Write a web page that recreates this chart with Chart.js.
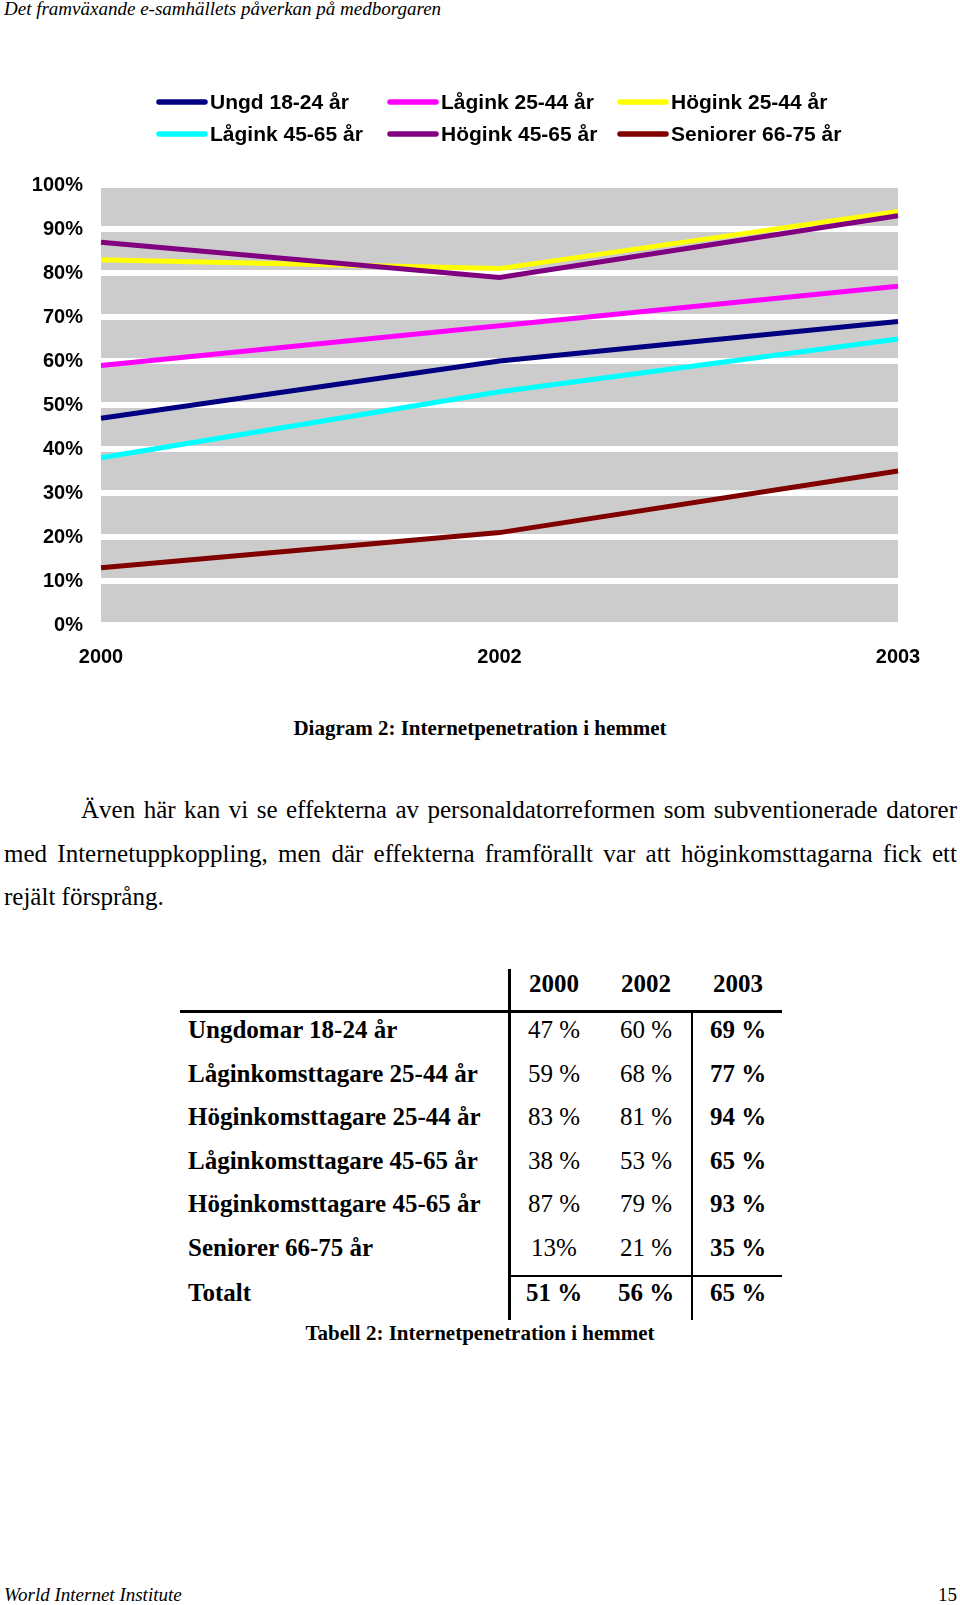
<!DOCTYPE html>
<html><head><meta charset="utf-8">
<script src="https://cdn.jsdelivr.net/npm/chart.js@4.4.1/dist/chart.umd.min.js"></script>
<style>
body{margin:0;width:960px;height:1605px;position:relative;background:#fff;overflow:hidden;}
.t{position:absolute;white-space:nowrap;color:#000;}
.serif{font-family:'Liberation Serif','Times New Roman',serif;}
.cap{font-weight:bold;font-size:21px;line-height:26px;text-align:center;width:600px;left:180px;}
.lbl{font-weight:bold;font-size:25px;line-height:30px;left:188px;}
.val{font-size:25px;line-height:30px;width:120px;text-align:center;}
.b{font-weight:bold;}
.ln{position:absolute;background:#000;}
#para{position:absolute;left:4px;top:788px;width:953px;font-size:25px;line-height:43.7px;text-align:justify;text-indent:77px;}
</style></head><body>
<div class="t serif" style="left:4px;top:-2px;font-style:italic;font-size:19px;line-height:22px">Det framväxande e-samhällets påverkan på medborgaren</div>
<canvas id="c" width="960" height="700" style="position:absolute;left:0;top:0"></canvas>
<div class="t serif cap" style="top:715px">Diagram 2: Internetpenetration i hemmet</div>
<div id="para" class="serif">Även här kan vi se effekterna av personaldatorreformen som subventionerade datorer med Internetuppkoppling, men där effekterna framförallt var att höginkomsttagarna fick ett rejält försprång.</div>
<div id="tbl"></div>
<div class="t serif cap" style="top:1320px">Tabell 2: Internetpenetration i hemmet</div>
<div class="t serif" style="left:4px;top:1584px;font-style:italic;font-size:19px;line-height:22px">World Internet Institute</div>
<div class="t serif" style="left:938px;top:1584px;font-size:19px;line-height:22px">15</div>
<script>
// ---- data ----
const categories = ['2000', '2002', '2003'];
const seriesNames = ['Ungd 18-24 år', 'Lågink 25-44 år', 'Högink 25-44 år', 'Lågink 45-65 år', 'Högink 45-65 år', 'Seniorer 66-75 år'];
const ungd = [47, 60, 69];
const lagink2544 = [59, 68, 77];
const hogink2544 = [83, 81, 94];
const lagink4565 = [38, 53, 65];
const hogink4565 = [87, 79, 93];
const seniorer = [13, 21, 35];
const yTickLabels = ['0%', '10%', '20%', '30%', '40%', '50%', '60%', '70%', '80%', '90%', '100%'];
const seriesColors = ['#000080', '#FF00FF', '#FFFF00', '#00FFFF', '#800080', '#800000'];

// table data
const tableYears = ['2000', '2002', '2003'];
const tableRows = ['Ungdomar 18-24 år', 'Låginkomsttagare 25-44 år', 'Höginkomsttagare 25-44 år', 'Låginkomsttagare 45-65 år', 'Höginkomsttagare 45-65 år', 'Seniorer 66-75 år', 'Totalt'];
const table2000 = ['47 %', '59 %', '83 %', '38 %', '87 %', '13%', '51 %'];
const table2002 = ['60 %', '68 %', '81 %', '53 %', '79 %', '21 %', '56 %'];
const table2003 = ['69 %', '77 %', '94 %', '65 %', '93 %', '35 %', '65 %'];

// ---- chart ----
Chart.defaults.font.family = "'Liberation Sans', Arial, sans-serif";
Chart.defaults.color = '#000';

const seriesValues = [ungd, lagink2544, hogink2544, lagink4565, hogink4565, seniorer];

const plotBg = {
  id: 'plotBg',
  beforeDraw(chart) {
    const { ctx, chartArea: a } = chart;
    ctx.save();
    ctx.fillStyle = '#CCCCCC';
    ctx.fillRect(a.left, a.top, a.right - a.left, a.bottom - a.top);
    ctx.restore();
  }
};
const gridLegend = {
  id: 'gridLegend',
  afterDraw(chart) {
    const ctx = chart.ctx;
    ctx.save();
    const colX = [159, 390, 620], rowY = [102, 134];
    chart.data.datasets.forEach((ds, i) => {
      const x = colX[i % 3], y = rowY[Math.floor(i / 3)];
      ctx.strokeStyle = ds.borderColor;
      ctx.lineWidth = 5.5;
      ctx.lineCap = 'round';
      ctx.beginPath(); ctx.moveTo(x, y); ctx.lineTo(x + 46, y); ctx.stroke();
      ctx.fillStyle = '#000';
      ctx.font = "bold 21px 'Liberation Sans'";
      ctx.textBaseline = 'middle';
      ctx.textAlign = 'left';
      ctx.fillText(ds.label, x + 51, y + 1);
    });
    ctx.restore();
  }
};

new Chart(document.getElementById('c'), {
  type: 'line',
  data: {
    labels: categories,
    datasets: seriesNames.map((n, i) => ({
      label: n,
      data: seriesValues[i],
      borderColor: seriesColors[i],
      backgroundColor: seriesColors[i],
      borderWidth: 5,
      pointRadius: 0,
      tension: 0,
      fill: false,
      order: 10 - i
    }))
  },
  options: {
    responsive: false,
    animation: false,
    events: [],
    layout: { padding: { top: 185, right: 62, bottom: 0, left: 0 } },
    plugins: { legend: { display: false }, tooltip: { enabled: false } },
    scales: {
      x: {
        offset: false,
        grid: { display: false, drawTicks: false },
        border: { display: false },
        ticks: { font: { size: 20, weight: 'bold' }, padding: 20, maxRotation: 0, autoSkip: false },
        afterFit(s) { s.height = 75; }
      },
      y: {
        min: 0, max: 100,
        ticks: { stepSize: 10, font: { size: 20, weight: 'bold' }, padding: 18, callback: (v, i) => yTickLabels[i] },
        grid: { color: '#FFFFFF', lineWidth: 6, drawTicks: false },
        border: { display: false },
        afterFit(s) { s.width = 101; }
      }
    }
  },
  plugins: [plotBg, gridLegend]
});

// ---- table ----
(function () {
  const tbl = document.getElementById('tbl');
  const colX = [554, 646, 738];
  const rowY = [1030, 1074, 1117, 1161, 1204, 1248, 1293];
  const add = (html) => tbl.insertAdjacentHTML('beforeend', html);
  tableYears.forEach((y, j) => add(`<div class="t serif val b" style="left:${colX[j] - 60}px;top:${984 - 15}px">${y}</div>`));
  const cols = [table2000, table2002, table2003];
  tableRows.forEach((r, i) => {
    add(`<div class="t serif lbl" style="top:${rowY[i] - 15}px">${r}</div>`);
    cols.forEach((c, j) => {
      const bold = (j === 2 || i === tableRows.length - 1) ? ' b' : '';
      add(`<div class="t serif val${bold}" style="left:${colX[j] - 60}px;top:${rowY[i] - 15}px">${c[i]}</div>`);
    });
  });
  add('<div class="ln" style="left:508px;top:969px;width:3px;height:351px"></div>');
  add('<div class="ln" style="left:180px;top:1010px;width:602px;height:3px"></div>');
  add('<div class="ln" style="left:691px;top:1011px;width:1.5px;height:309px"></div>');
  add('<div class="ln" style="left:509px;top:1275px;width:273px;height:1.5px"></div>');
})();
</script>
</body></html>
